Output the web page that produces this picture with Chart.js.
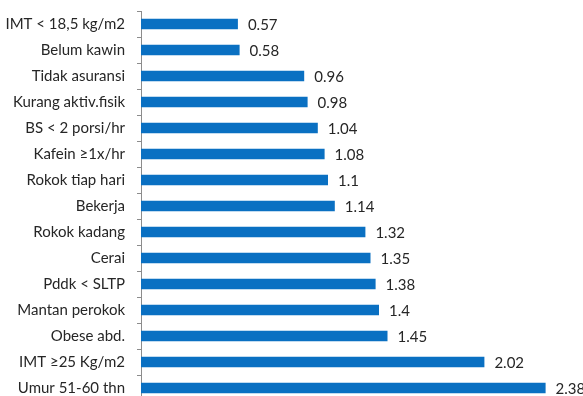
<!DOCTYPE html>
<html>
<head>
<meta charset="utf-8">
<script src="https://cdn.jsdelivr.net/npm/chart.js@4/dist/chart.umd.min.js"></script>
<style>
  html, body { margin: 0; padding: 0; background: #fff; overflow: hidden; }
  #wrap { width: 583px; height: 396px; overflow: hidden; }
</style>
</head>
<body>
<div id="wrap"><canvas id="chart" width="583" height="420"></canvas></div>
<script>
// faktor risiko (kategori) dan nilai
var categories = [
  'IMT < 18,5 kg/m2', 'Belum kawin', 'Tidak asuransi', 'Kurang aktiv.fisik',
  'BS < 2 porsi/hr', 'Kafein \u22651x/hr', 'Rokok tiap hari', 'Bekerja',
  'Rokok kadang', 'Cerai', 'Pddk < SLTP', 'Mantan perokok', 'Obese abd.',
  'IMT \u226525 Kg/m2', 'Umur 51-60 thn'
];
var values = [0.57, 0.58, 0.96, 0.98, 1.04, 1.08, 1.1, 1.14, 1.32, 1.35, 1.38, 1.4, 1.45, 2.02, 2.38];
var valueLabels = ['0.57', '0.58', '0.96', '0.98', '1.04', '1.08', '1.1', '1.14', '1.32', '1.35', '1.38', '1.4', '1.45', '2.02', '2.38'];

var fontFamily = 'Lato, "Liberation Sans", Arial, sans-serif';

// tulis angka di ujung kanan tiap batang
var barValues = {
  id: 'barValues',
  afterDatasetsDraw: function (chart) {
    var ctx = chart.ctx;
    var meta = chart.getDatasetMeta(0);
    ctx.save();
    ctx.font = '15px ' + fontFamily;
    ctx.fillStyle = '#262626';
    ctx.textAlign = 'left';
    ctx.textBaseline = 'middle';
    meta.data.forEach(function (bar, i) {
      ctx.fillText(valueLabels[i], bar.x + 10, bar.y + 1);
    });
    ctx.restore();
  }
};

var ctx = document.getElementById('chart').getContext('2d');
var chart = new Chart(ctx, {
  type: 'bar',
  data: {
    labels: categories,
    datasets: [{
      data: values,
      backgroundColor: '#0a70c2',
      borderWidth: 0,
      categoryPercentage: 1,
      barPercentage: 0.4
    }]
  },
  options: {
    indexAxis: 'y',
    responsive: false,
    animation: false,
    layout: { padding: { top: 11, bottom: 19, right: 17, left: 0 } },
    plugins: {
      legend: { display: false },
      tooltip: { enabled: false }
    },
    scales: {
      x: { display: false, min: 0, max: 2.5 },
      y: {
        afterFit: function (scale) {
          scale.width = 141;
          scale.paddingTop = 0;
          scale.paddingBottom = 0;
        },
        grid: {
          offset: true,
          drawOnChartArea: false,
          drawTicks: true,
          tickLength: 4,
          color: '#8c8c8c'
        },
        border: { display: true, color: '#8c8c8c', width: 1 },
        ticks: {
          padding: 12,
          color: '#262626',
          font: { family: fontFamily, size: 15 }
        }
      }
    }
  },
  plugins: [barValues]
});
</script>
</body>
</html>
